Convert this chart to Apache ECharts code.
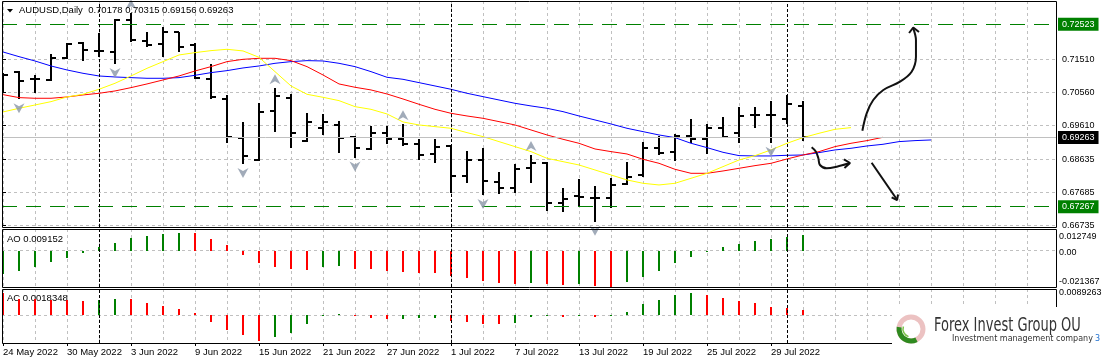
<!DOCTYPE html>
<html><head><meta charset="utf-8">
<script src="https://cdn.jsdelivr.net/npm/echarts@6/dist/echarts.min.js"></script>
<style>html,body{margin:0;padding:0;background:#fff}#c{width:1102px;height:364px}</style>
</head><body><div id="c"></div>
<script>
// ---------------- DATA ----------------
const symbolName = 'AUDUSD,Daily';
const dates = ['24 May 2022','25 May 2022','26 May 2022','27 May 2022','30 May 2022','31 May 2022','1 Jun 2022','2 Jun 2022','3 Jun 2022','6 Jun 2022',
 '7 Jun 2022','8 Jun 2022','9 Jun 2022','10 Jun 2022','13 Jun 2022','14 Jun 2022','15 Jun 2022','16 Jun 2022','17 Jun 2022','20 Jun 2022',
 '21 Jun 2022','22 Jun 2022','23 Jun 2022','24 Jun 2022','27 Jun 2022','28 Jun 2022','29 Jun 2022','30 Jun 2022','1 Jul 2022','4 Jul 2022',
 '5 Jul 2022','6 Jul 2022','7 Jul 2022','8 Jul 2022','11 Jul 2022','12 Jul 2022','13 Jul 2022','14 Jul 2022','15 Jul 2022','18 Jul 2022',
 '19 Jul 2022','20 Jul 2022','21 Jul 2022','22 Jul 2022','25 Jul 2022','26 Jul 2022','27 Jul 2022','28 Jul 2022','29 Jul 2022','1 Aug 2022','2 Aug 2022'];
const open  = [0.71015,0.71159,0.70938,0.70919,0.71562,0.71975,0.71764,0.71735,0.72648,0.72052,0.71947,0.72292,0.71927,0.70957,0.70362,0.69238,0.68613,0.70035,0.70410,0.69161,0.69526,0.69622,0.69267,0.68921,0.69401,0.69209,0.69065,0.68777,0.69017,0.68162,0.68613,0.67989,0.67797,0.68392,0.68517,0.67384,0.67576,0.67509,0.67528,0.67912,0.68181,0.68969,0.68854,0.69315,0.69209,0.69545,0.69401,0.69910,0.69910,0.69795,0.70178];
const high  = [0.71130,0.71178,0.71063,0.71668,0.71975,0.72023,0.72283,0.72667,0.72840,0.72292,0.72456,0.72312,0.71975,0.71380,0.70487,0.69699,0.70246,0.70679,0.70506,0.69958,0.69939,0.69737,0.69305,0.69593,0.69593,0.69641,0.69209,0.69209,0.69027,0.68883,0.68950,0.68258,0.68488,0.68757,0.68546,0.67797,0.68056,0.67874,0.68085,0.68546,0.69122,0.69315,0.69353,0.69795,0.69651,0.69843,0.70131,0.70131,0.70323,0.70487,0.70315];
const low   = [0.70563,0.70362,0.70554,0.70890,0.71514,0.71466,0.71572,0.71380,0.72023,0.71860,0.71572,0.71735,0.70938,0.70371,0.69113,0.68498,0.68594,0.69430,0.68969,0.69142,0.69334,0.68825,0.68681,0.68902,0.69065,0.69027,0.68613,0.68536,0.67653,0.67941,0.67605,0.67624,0.67653,0.67941,0.67153,0.67124,0.67268,0.66836,0.67220,0.67893,0.68133,0.68757,0.68594,0.69094,0.68786,0.69238,0.69113,0.69545,0.69113,0.69651,0.69156];
const close = [0.71053,0.70880,0.70957,0.71543,0.71956,0.71783,0.71764,0.72648,0.72072,0.71927,0.72312,0.71879,0.70986,0.70419,0.69286,0.68738,0.69987,0.70467,0.69401,0.69718,0.69718,0.69257,0.68950,0.69382,0.69209,0.69065,0.68757,0.68998,0.68162,0.68613,0.68018,0.67816,0.68345,0.68536,0.67365,0.67490,0.67557,0.67509,0.67893,0.68133,0.68969,0.68806,0.69315,0.69209,0.69526,0.69286,0.69891,0.69910,0.69910,0.70227,0.69263];
// Alligator lines (already shifted forward: lips +3, teeth +5, jaw +8 bars)
const lips  = [0.69997,0.70102,0.70198,0.70294,0.70429,0.70506,0.70650,0.70823,0.71034,0.71255,0.71447,0.71639,0.71707,0.71764,0.71803,0.71755,0.71572,0.71159,0.70746,0.70506,0.70419,0.70323,0.70150,0.70073,0.69939,0.69708,0.69622,0.69574,0.69526,0.69401,0.69286,0.69142,0.68998,0.68854,0.68661,0.68565,0.68469,0.68325,0.68181,0.68037,0.67941,0.67893,0.67941,0.68085,0.68229,0.68421,0.68613,0.68738,0.68902,0.69094,0.69257,0.69382,0.69497,0.69545];
const teeth = [0.70496,0.70410,0.70391,0.70391,0.70429,0.70487,0.70535,0.70602,0.70698,0.70804,0.70919,0.71034,0.71178,0.71303,0.71447,0.71514,0.71543,0.71543,0.71476,0.71303,0.71063,0.70804,0.70708,0.70631,0.70515,0.70371,0.70218,0.70073,0.69958,0.69881,0.69814,0.69718,0.69622,0.69478,0.69334,0.69209,0.69094,0.68930,0.68854,0.68786,0.68633,0.68517,0.68344,0.68229,0.68229,0.68296,0.68373,0.68450,0.68517,0.68642,0.68757,0.68854,0.68998,0.69094,0.69171,0.69267];
const jaw   = [0.71726,0.71591,0.71466,0.71322,0.71207,0.71111,0.71034,0.71005,0.70986,0.70967,0.70967,0.70986,0.71053,0.71130,0.71188,0.71265,0.71322,0.71399,0.71447,0.71476,0.71466,0.71399,0.71303,0.71159,0.70996,0.70938,0.70842,0.70746,0.70650,0.70535,0.70438,0.70342,0.70246,0.70170,0.70102,0.70006,0.69881,0.69766,0.69651,0.69526,0.69430,0.69334,0.69257,0.69094,0.68969,0.68834,0.68738,0.68729,0.68729,0.68748,0.68757,0.68825,0.68902,0.68950,0.69017,0.69065,0.69142,0.69171,0.69190];
const fractalUp   = [8,17,25,33];
const fractalDown = [1,7,15,22,30,37,48];
const ao = [-0.01371,-0.01175,-0.00940,-0.00646,-0.00411,-0.00118,0.00235,0.00470,0.00764,0.00881,0.00999,0.01058,0.01018,0.00705,0.00353,-0.00255,-0.00705,-0.00940,-0.01097,-0.01110,-0.00970,-0.00930,-0.01058,-0.01097,-0.01175,-0.01234,-0.01293,-0.01310,-0.01488,-0.01586,-0.01782,-0.01880,-0.01958,-0.01880,-0.01958,-0.02017,-0.01958,-0.02050,-0.02137,-0.01821,-0.01528,-0.01175,-0.00744,-0.00353,-0.00040,0.00215,0.00392,0.00588,0.00705,0.00823,0.00915];
const ac = [0.00744,0.00549,0.00540,0.00515,0.00505,0.00481,0.00515,0.00549,0.00540,0.00423,0.00320,0.00206,0.00069,-0.00229,-0.00515,-0.00700,-0.00893,-0.00744,-0.00620,-0.00320,-0.00010,0.00050,-0.00050,-0.00110,-0.00150,-0.00140,-0.00110,-0.00100,-0.00190,-0.00230,-0.00310,-0.00320,-0.00260,-0.00080,-0.00040,-0.00080,-0.00030,-0.00060,-0.00040,0.00090,0.00370,0.00510,0.00690,0.00770,0.00690,0.00600,0.00480,0.00420,0.00290,0.00230,0.00183];
const aoFirstUp = true, acFirstUp = false;
const aoLabel = 'AO 0.009152';
const acLabel = 'AC 0.0018348';
const priceTicks = [0.71510,0.70560,0.69610,0.68635,0.67685,0.66735];
const levelLines = [0.72523,0.67267];
const aoTicks = [0.012749,0,-0.021367];
const aoTickText = ['0.012749','0.00','-0.021367'];
const acTicks = [0.0089263];
const acTickText = ['0.0089263'];
const dateLabelIdx = [0,4,8,12,16,20,24,28,32,36,40,44,48];
const monthStartIdx = [6,28,49];
// hand-drawn annotation arrows (bar index, price)
const arrowUp = [[53.71,0.69457],[53.98,0.69958],[54.39,0.70341],[55.02,0.70630],[56.06,0.70869],[56.79,0.71157],[57.06,0.71589],[57.06,0.72071],[56.89,0.72408]];
const arrowUpHead = [[56.63,0.72272],[56.89,0.72431],[57.25,0.72301]];
const arrowSide = [[50.54,0.68978],[50.81,0.68851],[50.96,0.68661],[51.06,0.68468],[51.48,0.68373],[52.11,0.68419],[52.89,0.68517]];
const arrowSideHead = [[52.56,0.68632],[52.94,0.68526],[52.59,0.68382]];
const arrowDown = [[54.29,0.68534],[55.86,0.67480]];
const arrowDownHead = [[55.54,0.67537],[55.88,0.67459],[55.94,0.67618]];

// ---------------- CHART ----------------
const FONT = '"Liberation Sans", Arial, sans-serif';
const N = close.length;
const X_MIN = -0.0625, X_MAX = 65.8125;
const Y_MIN = 0.666815, Y_MAX = 0.731945;
const gridXs = []; for (let v = 0; v <= 64; v += 2) gridXs.push(v);
const GRID = '#c0c0c0', UP = '#008000', DN = '#ff0000';

const chart = echarts.init(document.getElementById('c'), null, {renderer: 'canvas'});

function bgX(gi) {
  return {type:'value', gridIndex:gi, min:X_MIN, max:X_MAX, axisLine:{show:false},
    axisTick:{show:false, customValues:gridXs}, axisLabel:{show:false},
    splitLine:{show:true, lineStyle:{color:GRID, type:[3,3], width:1}}};
}
function histData(vals, firstUp) {
  return vals.map((v,i) => [i, v, i === 0 ? (firstUp?1:0) : (v > vals[i-1] ? 1 : 0)]);
}
function histRender(params, api) {
  const p0 = api.coord([api.value(0), 0]);
  const p1 = api.coord([api.value(0), api.value(1)]);
  const x = Math.round(p0[0]);
  const y0 = Math.round(p0[1]), y1 = Math.round(p1[1]);
  return {type:'rect', shape:{x:x-1, y:Math.min(y0,y1), width:2, height:Math.max(1,Math.abs(y1-y0))},
    style:{fill: api.value(2) ? UP : DN}};
}
const sepLine = {symbol:'none', silent:true, label:{show:false}, precision:5,
  lineStyle:{color:'#000', type:[3,2], width:1}, data: monthStartIdx.map(i => ({xAxis:i}))};

function levelLabel(bg) {
  return {show:true, position:'end', distance:2, color:'#fff', backgroundColor:bg,
    padding:[2,4,2,4], fontSize:9, fontFamily:FONT, formatter: p => Number(p.value).toFixed(5)};
}
const rightLbl = {fontSize:9, fontFamily:FONT, color:'#000'};

const option = {
  animation:false,
  grid:[
    {left:2, right:46, top:1, height:226, show:false, containLabel:false, outerBoundsMode:'none'},
    {left:2, right:46, top:229, height:58, show:false, containLabel:false, outerBoundsMode:'none'},
    {left:2, right:46, top:289, height:54, show:false, containLabel:false, outerBoundsMode:'none'}
  ],
  xAxis:[bgX(0), bgX(1), bgX(2),
    {type:'value', gridIndex:2, min:X_MIN, max:X_MAX, position:'bottom',
     axisLine:{show:false},
     axisTick:{show:true, customValues:dateLabelIdx, length:3, lineStyle:{color:'#000'}},
     axisLabel:{show:true, customValues:dateLabelIdx, formatter: v => dates[Math.round(v)], align:'left',
       margin:4, fontSize:9.5, fontFamily:FONT, color:'#000'},
     splitLine:{show:false}}
  ],
  yAxis:[
    {type:'value', gridIndex:0, position:'right', min:Y_MIN, max:Y_MAX, axisLine:{show:false},
     axisTick:{show:true, customValues:priceTicks, length:3, lineStyle:{color:'#000'}},
     axisLabel:{customValues:priceTicks, formatter: v => v.toFixed(5), fontSize:9, fontFamily:FONT, color:'#000', margin:6},
     splitLine:{show:true, lineStyle:{color:GRID, type:[3,3]}}},
    {type:'value', gridIndex:1, position:'right', min:aoTicks[2], max:aoTicks[0], axisLine:{show:false},
     axisTick:{show:false, customValues:[0]},
     axisLabel:{customValues:aoTicks, margin:3, color:'#000',
       formatter: v => ['{a|','{b|','{c|'][aoTicks.indexOf(v)] + aoTickText[aoTicks.indexOf(v)] + '}',
       rich:{a:Object.assign({padding:[15,0,0,0]}, rightLbl), b:Object.assign({padding:[4,0,0,0]}, rightLbl), c:Object.assign({padding:[0,0,11,0]}, rightLbl)}},
     splitLine:{show:true, lineStyle:{color:GRID, type:[3,3]}}},
    {type:'value', gridIndex:2, position:'right', min:-0.009612, max:acTicks[0], axisLine:{show:false},
     axisTick:{show:false, customValues:[0]},
     axisLabel:{customValues:acTicks, margin:3, color:'#000', formatter: v => '{a|' + acTickText[0] + '}',
       rich:{a:Object.assign({padding:[8,0,0,0]}, rightLbl)}},
     splitLine:{show:true, lineStyle:{color:GRID, type:[3,3]}}}
  ],
  series:[
    {type:'custom', name:'bars', xAxisIndex:0, yAxisIndex:0, clip:true, z:3,
     encode:{x:0, y:[1,2,3,4]},
     data: close.map((c,i) => [i, open[i], high[i], low[i], c]),
     renderItem(params, api) {
       const i = api.value(0);
       const pH = api.coord([i, api.value(2)]);
       const pL = api.coord([i, api.value(3)]);
       const pO = api.coord([i, api.value(1)]);
       const pC = api.coord([i, api.value(4)]);
       const x = Math.round(pH[0]);
       const st = {stroke:'#000', lineWidth:2};
       return {type:'group', children:[
         {type:'line', shape:{x1:x, y1:Math.round(pH[1]), x2:x, y2:Math.round(pL[1])}, style:st},
         {type:'line', shape:{x1:x-5, y1:Math.round(pO[1]), x2:x, y2:Math.round(pO[1])}, style:st},
         {type:'line', shape:{x1:x, y1:Math.round(pC[1]), x2:x+5, y2:Math.round(pC[1])}, style:st}
       ]};
     },
     markLine:{symbol:'none', silent:true, precision:5, data:[
       {yAxis:levelLines[0], lineStyle:{color:'#008000', type:[15,9], width:1}, label:levelLabel('#008000')},
       {yAxis:levelLines[1], lineStyle:{color:'#008000', type:[15,9], width:1}, label:levelLabel('#008000')},
       {yAxis:close[N-1], lineStyle:{color:'#c0c0c0', type:'solid', width:1}, label:levelLabel('#000')}
     ]}},
    {type:'line', name:'sep0', xAxisIndex:0, yAxisIndex:0, data:[], markLine:sepLine},
    {type:'line', name:'Jaw', xAxisIndex:0, yAxisIndex:0, data: jaw.map((v,i)=>[i,v]), showSymbol:false, z:4,
     lineStyle:{color:'#0000ff', width:1}, clip:true},
    {type:'line', name:'Teeth', xAxisIndex:0, yAxisIndex:0, data: teeth.map((v,i)=>[i,v]), showSymbol:false, z:4,
     lineStyle:{color:'#ff0000', width:1}, clip:true},
    {type:'line', name:'Lips', xAxisIndex:0, yAxisIndex:0, data: lips.map((v,i)=>[i,v]), showSymbol:false, z:4,
     lineStyle:{color:'#ffff00', width:1}, clip:true},
    {type:'scatter', name:'FractalUp', xAxisIndex:0, yAxisIndex:0, z:5,
     data: fractalUp.map(i => [i, high[i]]), symbol:'path://M5,0L10,10L5,7L0,10Z', symbolSize:[11,10], symbolOffset:[0,-9],
     itemStyle:{color:'#8a96a8'}},
    {type:'scatter', name:'FractalDown', xAxisIndex:0, yAxisIndex:0, z:5,
     data: fractalDown.map(i => [i, low[i]]), symbol:'path://M0,0L5,3L10,0L5,10Z', symbolSize:[11,10], symbolOffset:[0,9],
     itemStyle:{color:'#8a96a8'}},
    ...[[arrowUp,true],[arrowUpHead,false],[arrowSide,true],[arrowSideHead,false],[arrowDown,false],[arrowDownHead,false]].map(([d,sm]) => ({
      type:'line', xAxisIndex:0, yAxisIndex:0, data:d, smooth: sm ? 0.35 : false, showSymbol:false, z:6,
      lineStyle:{color:'#111', width:2}, clip:false})),
    {type:'custom', name:'AO', xAxisIndex:1, yAxisIndex:1, clip:true, encode:{x:0, y:1},
     data: histData(ao, aoFirstUp), renderItem: histRender, markLine:sepLine},
    {type:'custom', name:'AC', xAxisIndex:2, yAxisIndex:2, clip:true, encode:{x:0, y:1},
     data: histData(ac, acFirstUp), renderItem: histRender, markLine:sepLine}
  ],
  graphic:[
    // pane frames
    {type:'rect', shape:{x:2.5, y:1.5, width:1054, height:226}, style:{fill:'none', stroke:'#000', lineWidth:1}, z:50},
    {type:'rect', shape:{x:2.5, y:229.5, width:1054, height:58}, style:{fill:'none', stroke:'#000', lineWidth:1}, z:50},
    {type:'rect', shape:{x:2.5, y:289.5, width:1054, height:54}, style:{fill:'none', stroke:'#000', lineWidth:1}, z:50},
    {type:'polygon', shape:{points:[[7,9],[13,9],[10,12.5]]}, style:{fill:'#000'}, z:100},
    {type:'text', x:19, y:10.5, z:100, style:{text:`${symbolName}  ${open[N-1].toFixed(5)} ${high[N-1].toFixed(5)} ${low[N-1].toFixed(5)} ${close[N-1].toFixed(5)}`,
      font:`9.5px ${FONT}`, fill:'#000', verticalAlign:'middle'}},
    {type:'text', x:7, y:239.5, z:100, style:{text:aoLabel, font:`9.5px ${FONT}`, fill:'#000', verticalAlign:'middle'}},
    {type:'text', x:7, y:298, z:1, style:{text:acLabel, font:`9.5px ${FONT}`, fill:'#000', verticalAlign:'middle'}},
    // logo
    {type:'rect', shape:{x:892, y:307, width:210, height:57}, style:{fill:'#fff'}, z:200},
    {type:'circle', shape:{cx:911, cy:329, r:12}, style:{fill:'none', stroke:'#ecc2c2', lineWidth:5}, z:201},
    {type:'arc', shape:{cx:911, cy:329, r:12, startAngle:Math.PI*0.35, endAngle:Math.PI*1.05}, style:{fill:'none', stroke:'#2f8a1f', lineWidth:5}, z:202},
    {type:'arc', shape:{cx:911, cy:329, r:8, startAngle:Math.PI*0.6, endAngle:Math.PI*1.1}, style:{fill:'none', stroke:'#7cc24a', lineWidth:1.5}, z:202},
    {type:'text', x:934, y:326, scaleX:0.65, z:203, style:{text:'Forex Invest Group OU', font:'20px "DejaVu Sans"', fill:'#333', verticalAlign:'middle'}},
    {type:'text', x:952, y:339, z:203, style:{text:'Investment management company', font:'8px "DejaVu Sans"', fill:'#333', verticalAlign:'middle'}},
    {type:'text', x:1095, y:339, z:203, style:{text:'3', font:'8px "DejaVu Sans"', fill:'#1e6fd0', verticalAlign:'middle'}}
  ]
};
chart.setOption(option);
</script></body></html>
